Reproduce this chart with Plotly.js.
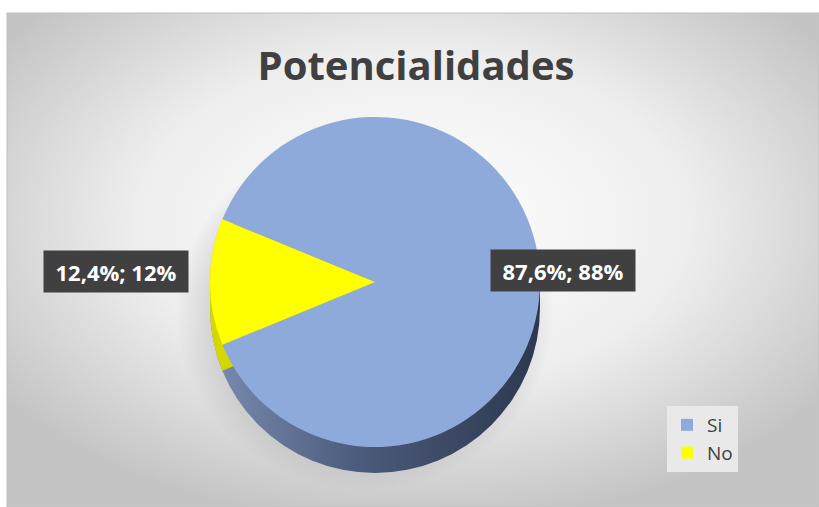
<!DOCTYPE html>
<html>
<head>
<meta charset="utf-8">
<script src="https://cdn.plot.ly/plotly-3.0.1.min.js"></script>
<style>html,body{margin:0;padding:0;background:#fff}#chart{width:819px;height:507px}</style>
</head>
<body>
<div id="chart"></div>
<script>
// Data
const categories = ["Si", "No"];
const values = [87.6, 12.4];
const colors = ["#8eaadb", "#ffff00"];
const chartTitle = "Potencialidades";

// Layout helpers (pixel -> paper)
const W = 819, H = 507;
const px = x => x / W;
const py = y => 1 - y / H;

// Pie geometry (pixels)
const cx = 375, cy = 282, R = 165, depth = 26;

// Label text built from data: "87,6%; 88%"
const total = values.reduce((a, b) => a + b, 0);
const labelText = values.map(v => v.toFixed(1).replace('.', ',') + '%; ' + Math.round(v / total * 100) + '%');

// rotation so the "No" slice is centred at 9 o'clock
const noMid = (values[0] + values[1] / 2) / total * 360;
const rotation = 270 - noMid;

// half-angle of the No slice (for the depth side colouring)
const half = values[1] / total * Math.PI;
const ax = cx - R * Math.cos(half), ay = R * Math.sin(half);
const yellowSide = `M ${cx} ${cy} L ${ax} ${cy - ay} A ${R} ${R} 0 0 0 ${cx - R} ${cy} L ${cx - R} ${cy + depth} A ${R} ${R} 0 0 0 ${ax} ${cy + depth + ay} L ${cx} ${cy + depth} Z`;

// background svg (gradient frame + pie depth)
const svg = `<svg xmlns="http://www.w3.org/2000/svg" width="${W}" height="${H}" viewBox="0 0 ${W} ${H}">
<defs>
<radialGradient id="bg" cx="50%" cy="42%" r="62%">
<stop offset="0" stop-color="#ffffff"/>
<stop offset="0.55" stop-color="#eeeeee"/>
<stop offset="1" stop-color="#c4c4c4"/>
</radialGradient>
<linearGradient id="side" x1="0" y1="0" x2="1" y2="0">
<stop offset="0" stop-color="#7a8cb0"/>
<stop offset="0.45" stop-color="#4b5b7b"/>
<stop offset="1" stop-color="#2c384f"/>
</linearGradient>
<radialGradient id="sh" cx="50%" cy="50%" r="50%">
<stop offset="0.7" stop-color="#9a9a9a" stop-opacity="0.5"/>
<stop offset="1" stop-color="#9a9a9a" stop-opacity="0"/>
</radialGradient>
</defs>
<rect x="7" y="13" width="${W - 7}" height="${H - 13}" fill="url(#bg)" stroke="#c0c0c0" stroke-width="1"/>
<ellipse cx="${cx - 10}" cy="${cy + depth + 6}" rx="${R + 24}" ry="${R + 12}" fill="url(#sh)"/>
<circle cx="${cx}" cy="${cy + depth}" r="${R}" fill="url(#side)"/>
<rect x="${cx - R}" y="${cy}" width="${2 * R}" height="${depth}" fill="url(#side)"/>
<path d="${yellowSide}" fill="#d6d600"/>
</svg>`;
const svgUri = 'data:image/svg+xml;base64,' + btoa(svg);

const trace = {
  type: 'pie',
  labels: categories,
  values: values,
  sort: false,
  direction: 'clockwise',
  rotation: rotation,
  marker: { colors: colors, line: { width: 0 } },
  textinfo: 'none',
  hoverinfo: 'label+percent',
  domain: { x: [px(cx - R), px(cx + R)], y: [py(cy + R), py(cy - R)] },
  showlegend: true
};

// Label positions (pixels)
const labelPos = [[563, 270], [116, 271]];

const layout = {
  width: W, height: H,
  margin: { l: 0, r: 0, t: 0, b: 0 },
  paper_bgcolor: '#ffffff',
  title: {
    text: '<b>' + chartTitle + '</b>',
    font: { family: 'Open Sans, sans-serif', size: 40, color: '#404040' },
    x: px(416), xanchor: 'center', y: py(66), yanchor: 'middle'
  },
  images: [{
    source: svgUri, xref: 'paper', yref: 'paper',
    x: 0, y: 1, sizex: 1, sizey: 1, sizing: 'stretch',
    xanchor: 'left', yanchor: 'top', layer: 'below'
  }],
  annotations: categories.map((c, i) => ({
    text: '<b>' + labelText[i] + '</b>',
    xref: 'paper', yref: 'paper',
    x: px(labelPos[i][0]), y: py(labelPos[i][1]),
    xanchor: 'center', yanchor: 'middle', showarrow: false,
    font: { family: 'Open Sans, sans-serif', size: 22, color: '#ffffff' },
    bgcolor: '#404040', borderpad: 0, width: 144, height: 41
  })),
  legend: {
    x: px(667), y: py(439), xanchor: 'left', yanchor: 'middle',
    bgcolor: '#e9e9e9', font: { family: 'Open Sans, sans-serif', size: 19, color: '#404040' },
    borderwidth: 0, itemwidth: 30
  }
};

Plotly.newPlot('chart', [trace], layout, { displayModeBar: false, staticPlot: true });
</script>
</body>
</html>
